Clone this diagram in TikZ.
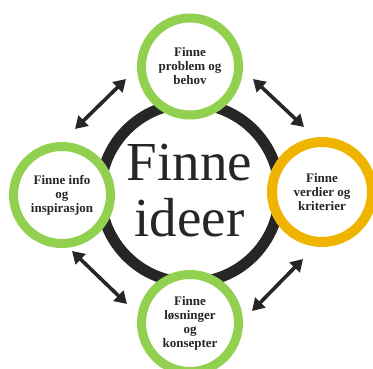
\documentclass[tikz,border=0pt]{standalone}
\usepackage{fontspec}
\setmainfont{Liberation Serif}
\usetikzlibrary{arrows.meta}
\definecolor{ringdark}{HTML}{262626}
\definecolor{leafgreen}{HTML}{92D050}
\definecolor{goldring}{HTML}{EEB400}
\definecolor{textdark}{HTML}{262626}
\begin{document}
\begin{tikzpicture}[x=1pt,y=-1pt,
  stage/.style={circle,draw=leafgreen,line width=9pt,fill=white,
    minimum size=97pt,inner sep=0pt,align=center,text=textdark,
    font=\fontsize{13}{14}\selectfont\bfseries},
  keystage/.style={stage,draw=goldring,line width=10pt,minimum size=100pt},
  biarrow/.style={draw=ringdark,line width=3.6pt,
    {Triangle[length=12pt,width=14pt]}-{Triangle[length=12pt,width=14pt]}}]
  \useasboundingbox (0,0) rectangle (373,369);
  % central ring and title
  \node (hub) [circle,draw=ringdark,line width=11pt,minimum size=179pt,inner sep=0pt] at (190,193) {};
  \node (title) [align=center,text=textdark,font=\fontsize{55}{56}\selectfont] at (189.5,191) {Finne\\ideer};
  % the four stages around the ring
  \node (problem) [stage] at (190,66.5) {Finne\\problem og\\behov};
  \node (info) [stage] at (62,195) {Finne info\\og\\inspirasjon};
  \node (values) [keystage] at (322,192) {Finne\\verdier og\\kriterier};
  \node (solutions) [stage] at (190,323) {Finne\\løsninger\\og\\konsepter};
  % arrow end points between neighbouring stages
  \coordinate (pi1) at (126,79);  \coordinate (pi2) at (75,129);
  \coordinate (pv1) at (253,79);  \coordinate (pv2) at (304,127);
  \coordinate (is1) at (72,251);  \coordinate (is2) at (127,304);
  \coordinate (vs1) at (303,259); \coordinate (vs2) at (252,311);
  \draw[biarrow] (pi1) -- (pi2);
  \draw[biarrow] (pv1) -- (pv2);
  \draw[biarrow] (is1) -- (is2);
  \draw[biarrow] (vs1) -- (vs2);
\end{tikzpicture}
\end{document}
